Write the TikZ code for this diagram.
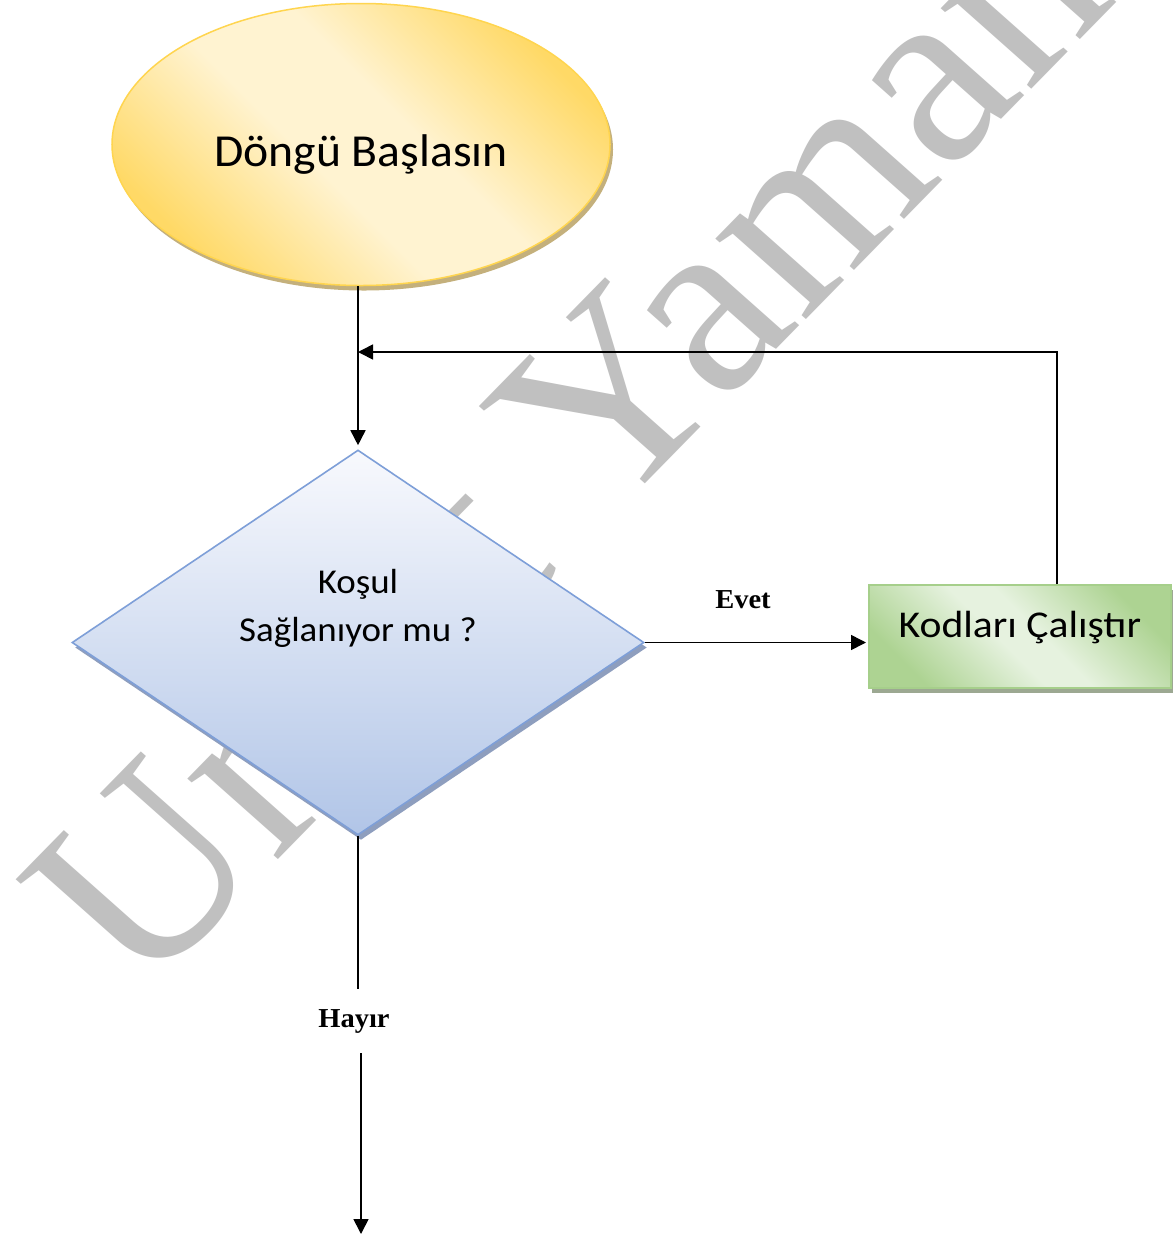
\documentclass[tikz,border=0pt]{standalone}
\usepackage{fontspec}
\setmainfont{Carlito}
\newfontfamily\serifface{Liberation Serif}
\usetikzlibrary{arrows.meta,shapes.geometric}

\definecolor{markgray}{HTML}{C0C0C0}
\definecolor{goldDark}{HTML}{FFD966}
\definecolor{goldLight}{HTML}{FFF3D1}
\definecolor{goldEdge}{HTML}{FFD54F}
\definecolor{goldShade}{HTML}{C4B07C}
\definecolor{blueTop}{HTML}{F8F9FD}
\definecolor{blueBottom}{HTML}{B1C5E7}
\definecolor{blueEdge}{HTML}{7E9FD8}
\definecolor{blueShade}{HTML}{8E9EBE}
\definecolor{greenDark}{HTML}{ADD392}
\definecolor{greenLight}{HTML}{E6F2DF}
\definecolor{greenEdge}{HTML}{A6CF8B}
\definecolor{greenShade}{HTML}{9CA892}

% diagonal sheen: dark edges, a broad light band through the middle
\pgfdeclareverticalshading{goldsheen}{100bp}{color(0bp)=(goldDark); color(25bp)=(goldDark);
  color(44bp)=(goldLight); color(56bp)=(goldLight); color(75bp)=(goldDark); color(100bp)=(goldDark)}
\pgfdeclareverticalshading{greensheen}{100bp}{color(0bp)=(greenDark); color(25bp)=(greenDark);
  color(46bp)=(greenLight); color(54bp)=(greenLight); color(75bp)=(greenDark); color(100bp)=(greenDark)}

\begin{document}
\begin{tikzpicture}[x=1bp, y=-1bp,
  link/.style={line width=1.6bp, draw=black},
  arrowlink/.style={link, -{Triangle[length=15bp,width=15bp]}},
  caption/.style={font=\fontsize{#1}{#1}\selectfont, inner sep=0pt, anchor=base},
  answer/.style={font=\serifface\bfseries\fontsize{27.5}{27.5}\selectfont,
                 inner sep=0pt, xscale=1.04},
  shadowed/.style={preaction={fill=#1, transform canvas={xshift=3bp, yshift=-5bp}}},
]
\fill[white] (0,0) rectangle (1173,1234);
\useasboundingbox (0,0) rectangle (1173,1234);
\clip (0,0) rectangle (1173,1234);

% background watermark
\node[text=markgray, font=\serifface\fontsize{258}{258}\selectfont,
      inner sep=0pt, anchor=base west, xscale=1.05, rotate=47]
      (mark) at (141,999) {Umut Yaman};

% start of the loop
\node[ellipse, minimum width=498bp, minimum height=282bp, inner sep=0pt,
      draw=goldEdge, line width=1.5bp,
      shading=goldsheen, shading angle=-45, shadowed=goldShade]
      (start) at (361,144.5) {};
\node[caption=46, xscale=1.04] (start-text) at (361,166) {Döngü Başlasın};

% condition
\node[diamond, minimum width=572bp, minimum height=385bp, inner sep=0pt,
      draw=blueEdge, line width=1.6bp,
      top color=blueTop, bottom color=blueBottom, shadowed=blueShade]
      (cond) at (358,642.5) {};
\node[font=\fontsize{35}{48}\selectfont, align=center, anchor=north,
      inner sep=0pt, xscale=1.06]
      (cond-text) at (358,569) {Koşul\\Sağlanıyor mu ?};

% loop body
\node[rectangle, minimum width=302bp, minimum height=103bp, inner sep=0pt,
      draw=greenEdge, line width=2bp,
      shading=greensheen, shading angle=-45, shadowed=greenShade]
      (work) at (1020,636.5) {};
\node[caption=38, xscale=1.1] (work-text) at (1020,637) {Kodları Çalıştır};

% branch labels
\node[answer, anchor=base] (yes) at (743,608.5) {Evet};
\node[answer, anchor=base, inner ysep=20bp] (no) at (354,1027) {Hayır};

\coordinate (join) at (358,352);
\coordinate (exit) at (361,1234);

% connectors
\draw[arrowlink, shorten >=4bp] (start.south -| cond.north) -- (cond.north);
\draw[arrowlink] ([xshift=37bp]work.north) |- (join);
\draw[arrowlink, shorten >=2bp] (cond.east) -- (cond.east -| work.west);
\draw[link] (cond.south) -- (cond.south |- no.north);
\draw[arrowlink] (no.south -| exit) -- (exit);
\end{tikzpicture}
\end{document}
